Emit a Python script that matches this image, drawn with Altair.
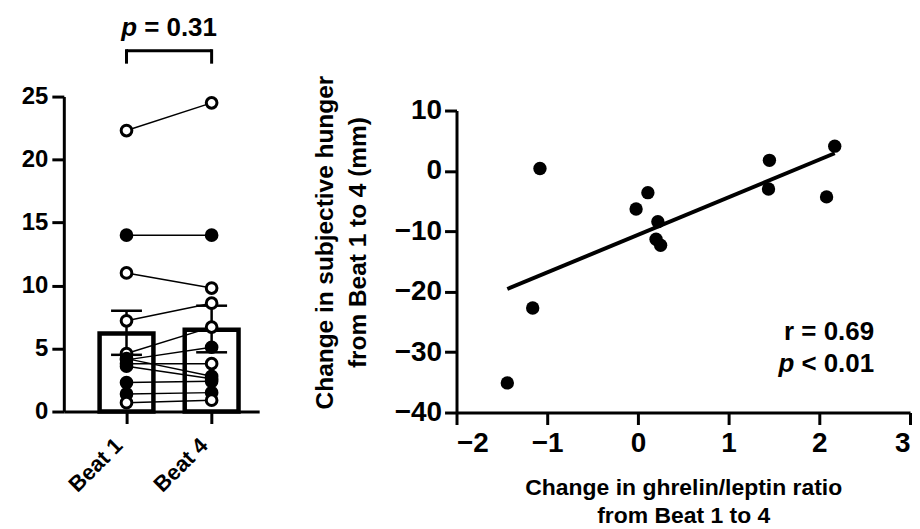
import altair as alt
import pandas as pd

FONT = "Liberation Sans"

# ---------------- Left panel data ----------------
groups = ["Beat 1", "Beat 4"]
group_pos = [1, 2]
beat1 = [22.3, 14.0, 11.0, 7.2, 4.6, 4.1, 3.8, 4.2, 3.6, 2.3, 1.4, 0.7]
beat4 = [24.5, 14.0, 9.8, 8.6, 6.7, 5.1, 3.8, 2.8, 2.6, 2.4, 1.5, 0.9]
marker = ["open", "filled", "open", "open", "open", "filled",
          "open", "filled", "filled", "filled", "filled", "open"]
bar_means = [6.2, 6.5]
bar_upper = [8.0, 8.4]
bar_lower = [4.5, 4.7]
left_yticks = [0, 5, 10, 15, 20, 25]
p_left = "= 0.31"

# ---------------- Right panel data ----------------
ratio_change = [-1.08, -1.44, -1.16, -0.02, 0.11, 0.22, 0.20, 0.25, 1.45, 1.44, 2.08, 2.17]
hunger_change = [0.4, -35.1, -22.7, -6.3, -3.6, -8.4, -11.3, -12.3, 1.75, -3.0, -4.3, 4.1]
right_xticks = [-2, -1, 0, 1, 2, 3]
right_yticks = [-40, -30, -20, -10, 0, 10]
r_text = "r = 0.69"
p_right = "< 0.01"

# ---------------- tables ----------------
rows = []
for i, (a, b, m) in enumerate(zip(beat1, beat4, marker)):
    rows.append({"id": i, "x": group_pos[0], "v": a, "m": m})
    rows.append({"id": i, "x": group_pos[1], "v": b, "m": m})
pts = pd.DataFrame(rows)
bars = pd.DataFrame({"x": group_pos, "group": groups, "mean": bar_means,
                     "lo": bar_lower, "hi": bar_upper})
scat = pd.DataFrame({"ratio": ratio_change, "hunger": hunger_change})

# ---------------- Left panel ----------------
xs = alt.Scale(domain=[0.322, 2.5], nice=False, zero=False)
ys = alt.Scale(domain=[0, 25], nice=False)
label_expr = f"datum.value == {group_pos[0]} ? '{groups[0]}' : '{groups[1]}'"
x_ax = alt.Axis(values=group_pos, labelExpr=label_expr, labelAngle=-45,
                labelAlign="right", labelBaseline="middle", labelPadding=18,
                labelOffset=-8, labelFontSize=22, title=None)
y_ax = alt.Axis(values=left_yticks, labelFontSize=24, labelPadding=4, title=None)

base_l = alt.Chart(bars)
bar = base_l.mark_bar(orient="vertical", size=54, fill="white", stroke="black",
                      strokeWidth=4.5).encode(
    x=alt.X("x:Q", scale=xs, axis=x_ax),
    y=alt.Y("mean:Q", scale=ys, axis=y_ax),
)
err = base_l.mark_rule(color="black", strokeWidth=2.5).encode(
    x="x:Q", y="lo:Q", y2="hi:Q")
cap_hi = base_l.mark_tick(orient="horizontal", size=31, thickness=2.5,
                          color="black", opacity=1).encode(x="x:Q", y="hi:Q")
cap_lo = base_l.mark_tick(orient="horizontal", size=31, thickness=2.5,
                          color="black", opacity=1).encode(x="x:Q", y="lo:Q")
lines = alt.Chart(pts).mark_line(color="black", strokeWidth=1.5).encode(
    x="x:Q", y="v:Q", detail="id:N")
dots = alt.Chart(pts).mark_point(shape="circle", filled=True, stroke="black",
                                 strokeWidth=3, size=115, opacity=1).encode(
    x="x:Q", y="v:Q",
    fill=alt.Fill("m:N", scale=alt.Scale(domain=["filled", "open"],
                                         range=["black", "white"]), legend=None))

ann = alt.Chart(pd.DataFrame({"a": [0]}))
br_h = ann.mark_rule(color="black", strokeWidth=3).encode(
    x=alt.datum(group_pos[0]), x2=alt.datum(group_pos[1]), y=alt.value(-46))
br_l = ann.mark_rule(color="black", strokeWidth=3).encode(
    x=alt.datum(group_pos[0]), y=alt.value(-47.5), y2=alt.value(-33))
br_r = ann.mark_rule(color="black", strokeWidth=3).encode(
    x=alt.datum(group_pos[1]), y=alt.value(-47.5), y2=alt.value(-33))
p_it = ann.mark_text(font=FONT, fontSize=26, fontWeight="bold", fontStyle="italic",
                     align="right", baseline="alphabetic", dx=-32).encode(
    x=alt.datum(1.5), y=alt.value(-61), text=alt.value("p"))
p_val = ann.mark_text(font=FONT, fontSize=26, fontWeight="bold",
                      align="left", baseline="alphabetic", dx=-25).encode(
    x=alt.datum(1.5), y=alt.value(-61), text=alt.value(p_left))

left = alt.layer(bar, err, cap_hi, cap_lo, lines, dots, br_h, br_l, br_r, p_it, p_val
                 ).properties(width=196, height=316)

# ---------------- Right panel ----------------
RH = 317  # panel height; the y range starts 14px below the panel top
rxs = alt.Scale(domain=[-2, 3], nice=False)
rys = alt.Scale(domain=[-40, 10], range=[RH, 14], nice=False)
rx_ax = alt.Axis(values=right_xticks, format="d", labelFontSize=28, labelPadding=5,
                 title=["Change in ghrelin/leptin ratio", "from Beat 1 to 4"],
                 titleFontSize=23, titleLineHeight=28, titleBaseline="alphabetic",
                 titleY=82, titleX=227.5, titleAlign="center")
ry_ax = alt.Axis(values=right_yticks, format="d", labelFontSize=28, labelPadding=3,
                 title=["Change in subjective hunger", "from  Beat 1 to 4 (mm)"],
                 titleFontSize=24.5, titleLineHeight=33, titleBaseline="alphabetic",
                 titleX=-124, titleY=146, titleAlign="center", titleAngle=270)

base_r = alt.Chart(scat)
sc = base_r.mark_circle(size=180, color="black", opacity=1).encode(
    x=alt.X("ratio:Q", scale=rxs, axis=rx_ax),
    y=alt.Y("hunger:Q", scale=rys, axis=ry_ax))
fit = base_r.transform_regression(
    "ratio", "hunger", extent=[min(ratio_change), max(ratio_change)]
).mark_line(color="black", strokeWidth=4).encode(x="ratio:Q", y="hunger:Q")

r_t = ann.mark_text(font=FONT, fontSize=26, fontWeight="bold", align="right",
                    baseline="alphabetic").encode(
    x=alt.value(419), y=alt.value(244), text=alt.value(r_text))
pr_it = ann.mark_text(font=FONT, fontSize=26, fontWeight="bold", fontStyle="italic",
                      align="right", baseline="alphabetic").encode(
    x=alt.value(339), y=alt.value(276), text=alt.value("p"))
pr_val = ann.mark_text(font=FONT, fontSize=26, fontWeight="bold", align="right",
                       baseline="alphabetic").encode(
    x=alt.value(419), y=alt.value(276), text=alt.value(p_right))

right = alt.layer(sc, fit, r_t, pr_it, pr_val).properties(width=455, height=RH)

chart = alt.hconcat(left, right, spacing=54).properties(
    padding={"left": 13, "top": 6, "right": 0, "bottom": 0},
    background="white",
).configure_view(stroke=None).configure_axis(
    grid=False, domainColor="black", domainWidth=3, tickColor="black",
    tickWidth=3, tickSize=12, labelFont=FONT, labelFontWeight="bold",
    labelColor="black", titleFont=FONT, titleFontWeight="bold", titleColor="black",
)

chart.save("out.html", embed_options={"renderer": "svg", "actions": False})
